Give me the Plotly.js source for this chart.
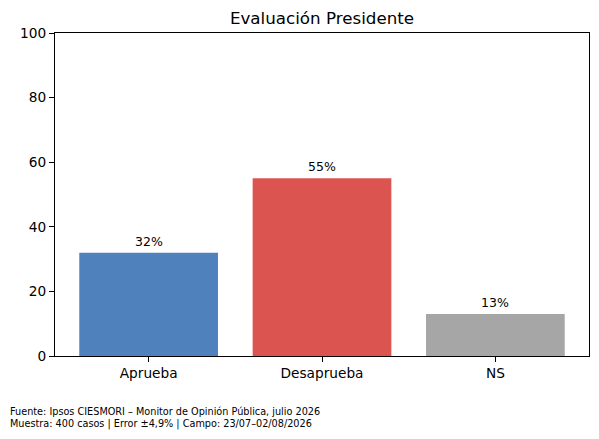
<!DOCTYPE html>
<html><head><meta charset="utf-8">
<script src="https://cdn.plot.ly/plotly-3.0.1.min.js"></script>
<style>body{margin:0;padding:0;background:#fff}#chart{width:599px;height:439px}</style>
</head><body><div id="chart"></div>
<script>
const categories = ["Aprueba", "Desaprueba", "NS"];
const values = [32, 55, 13];
const barLabels = ["32%", "55%", "13%"];
const barColors = ["#4f81bd", "#dc5450", "#a6a6a6"];
const titleText = "Evaluación Presidente";
const footerLines = [
  "Fuente: Ipsos CIESMORI – Monitor de Opinión Pública, julio 2026",
  "Muestra: 400 casos | Error ±4,9% | Campo: 23/07–02/08/2026"
];
const yTicks = [0, 20, 40, 60, 80, 100];

const font = "DejaVu Sans, sans-serif";
const trace = {
  type: "bar",
  x: categories,
  y: values,
  marker: {color: barColors, line: {width: 0}},
  width: 0.8,
  hoverinfo: "none"
};
const annotations = categories.map((c, i) => ({
  x: c, y: values[i], xref: "x", yref: "y",
  text: barLabels[i], showarrow: false,
  yanchor: "bottom", yshift: 2,
  font: {family: font, size: 12.5, color: "#000"}
}));
footerLines.forEach((t, i) => annotations.push({
  xref: "paper", yref: "paper", x: 0, y: 0,
  xanchor: "left", yanchor: "middle",
  xshift: -47, yshift: -55 - i * 13,
  text: t, showarrow: false, align: "left",
  font: {family: font, size: 9.7, color: "#000"}
}));

const layout = {
  width: 599, height: 439,
  margin: {l: 55, r: 9.5, t: 32.5, b: 83},
  paper_bgcolor: "#fff", plot_bgcolor: "#fff",
  showlegend: false,
  title: {text: titleText, font: {family: font, size: 16.7, color: "#000"},
    x: 0.5, xref: "paper", y: 1 - 18/439, yref: "container", yanchor: "middle"},
  xaxis: {
    type: "category", range: [-0.54, 2.54],
    showline: true, linecolor: "#000", linewidth: 1, mirror: true,
    ticks: "outside", ticklen: 5, tickcolor: "#000", tickwidth: 1,
    showgrid: false, zeroline: false, fixedrange: true,
    tickfont: {family: font, size: 13.7, color: "#000"}
  },
  yaxis: {
    range: [0, 100], tickvals: yTicks, ticktext: yTicks.map(String),
    showline: true, linecolor: "#000", linewidth: 1, mirror: true,
    ticks: "outside", ticklen: 5, tickcolor: "#000", tickwidth: 1,
    showgrid: false, zeroline: false, fixedrange: true,
    tickfont: {family: font, size: 13.7, color: "#000"}
  },
  annotations: annotations
};
Plotly.newPlot("chart", [trace], layout, {staticPlot: true, displayModeBar: false});
</script></body></html>
